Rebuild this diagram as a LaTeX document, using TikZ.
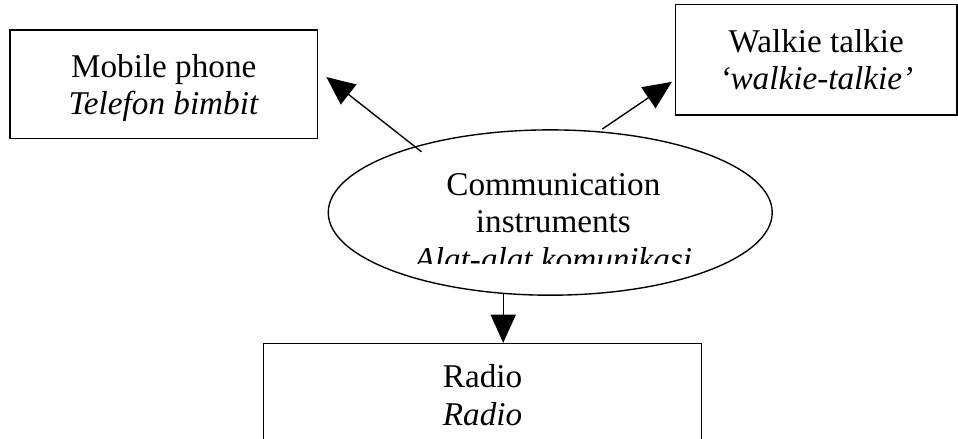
\documentclass[tikz,border=0pt]{standalone}
\usepackage{fontspec}
\setmainfont{Liberation Serif}
\usetikzlibrary{arrows.meta}
\usetikzlibrary{shapes.geometric}
\tikzset{->/.style = {-{Triangle[length=0.36cm, width=0.32cm]}}}
\tikzset{term/.style = {draw, align=center}}

\begin{document}
\begin{tikzpicture}[line width=0.5pt, font=\fontsize{12pt}{13.5pt}\selectfont]
  \useasboundingbox (0, 0) rectangle (12.17, -5.575);
  \clip (0, 0) rectangle (12.17, -5.575);

  \node [term, minimum width=3.91cm, minimum height=1.38cm, text depth=0pt] (mobile) at (2.08, -1.07) {Mobile phone\\ \textit{Telefon bimbit}};
  \node [term, minimum width=3.57cm, minimum height=1.40cm] (walkie) at (10.37, -0.76) {Walkie talkie\\ \textit{`walkie-talkie'}};
  \node [term, anchor=north, minimum width=5.57cm, inner ysep=0.27cm, text depth=0.4cm] (radio) at (6.13, -4.356) {Radio\\ \textit{Radio}};
  \node [draw, ellipse, minimum width=5.64cm, minimum height=2.10cm] (instr) at (6.99, -2.70) {};
  % bottom line of the ellipse text is cut off
  \begin{scope}
    \clip (3, -1.5) rectangle (11, -3.345);
    \node [align=center] (instrtext) at (7.03, -2.82) {Communication\\ instruments\\ \textit{Alat-alat komunikasi}};
  \end{scope}

  \draw [->, shorten <=-0.11cm, shorten >=0.13cm] (instr.154) -- (mobile.5);
  \draw [->, shorten <=0.05cm, shorten >=0.05cm] (instr.59) -- (walkie.188);
  \draw [->] (instr.240) -- (instr.240 |- radio.north);
\end{tikzpicture}
\end{document}
